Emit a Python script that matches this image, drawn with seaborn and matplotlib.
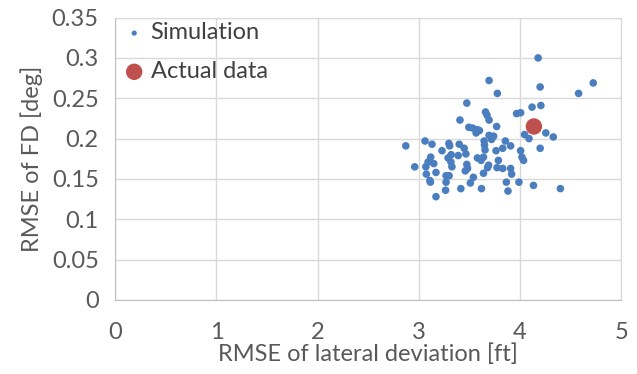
import pandas as pd
import matplotlib.pyplot as plt
import seaborn as sns

sns.set_style('whitegrid')
plt.rcParams['font.family'] = ['Lato', 'DejaVu Sans']

# simulated runs
sim_x = [4.18, 3.695, 4.20, 4.725, 4.58, 3.777, 3.475, 3.66, 3.675, 3.695,
         3.407, 3.967, 4.007, 4.12, 4.207, 3.77, 3.495, 3.534, 3.58, 3.567,
         3.695, 3.74, 3.72, 3.646, 3.65, 3.856, 3.908, 3.83, 3.764, 4.046,
         4.09, 4.256, 4.33, 4.20, 4.007, 4.02, 4.036, 2.872, 3.062, 3.131,
         3.23, 3.298, 3.40, 3.449, 3.466, 3.32, 3.39, 3.118, 3.092, 3.148,
         3.07, 2.96, 3.075, 3.17, 3.11, 3.115, 3.27, 3.30, 3.27, 3.328,
         3.318, 3.475, 3.482, 3.54, 3.51, 3.416, 3.265, 3.17, 3.58, 3.64,
         3.616, 3.69, 3.68, 3.64, 3.62, 3.787, 3.774, 3.83, 3.908, 3.918,
         3.866, 3.882, 3.99, 4.134, 4.40, 3.305, 3.29, 3.46, 3.60, 3.655]
sim_y = [0.300, 0.272, 0.264, 0.269, 0.256, 0.256, 0.244, 0.233, 0.229, 0.223,
         0.223, 0.231, 0.232, 0.239, 0.241, 0.215, 0.214, 0.213, 0.211, 0.207,
         0.204, 0.203, 0.199, 0.197, 0.192, 0.197, 0.191, 0.188, 0.185, 0.205,
         0.200, 0.207, 0.202, 0.188, 0.185, 0.177, 0.173, 0.191, 0.197, 0.193,
         0.185, 0.194, 0.193, 0.188, 0.181, 0.180, 0.179, 0.177, 0.171, 0.169,
         0.165, 0.165, 0.156, 0.158, 0.148, 0.146, 0.154, 0.154, 0.146, 0.165,
         0.171, 0.168, 0.163, 0.152, 0.145, 0.138, 0.136, 0.128, 0.176, 0.177,
         0.173, 0.167, 0.164, 0.157, 0.138, 0.173, 0.164, 0.163, 0.163, 0.156,
         0.146, 0.135, 0.146, 0.142, 0.138, 0.191, 0.176, 0.160, 0.210, 0.186]
actual_x = [4.138]
actual_y = [0.215]

sim = pd.DataFrame({'x': sim_x, 'y': sim_y})
act = pd.DataFrame({'x': actual_x, 'y': actual_y})

fig = plt.figure(figsize=(6.37, 3.74), dpi=100)
ax = fig.add_axes([0.181, 0.198, 0.794, 0.755])

sns.scatterplot(data=sim, x='x', y='y', color='#4A7EBF', s=30,
                edgecolor='none', label='Simulation', ax=ax)
sns.scatterplot(data=act, x='x', y='y', color='#C0504D', s=140,
                edgecolor='none', label='Actual data', ax=ax)

ax.set_xlim(0, 5)
ax.set_ylim(0, 0.35)
ax.set_xticks(range(0, 6))
ax.set_yticks([0, 0.05, 0.1, 0.15, 0.2, 0.25, 0.3, 0.35])
ax.set_yticklabels(['0', '0.05', '0.1', '0.15', '0.2', '0.25', '0.3', '0.35'])
ax.grid(color='#D9D9D9', linewidth=1)
for side in ax.spines:
    ax.spines[side].set_color('#D9D9D9')
ax.spines['left'].set_color('#BFBFBF')
ax.spines['bottom'].set_color('#BFBFBF')
ax.tick_params(axis='y', colors='#595959', labelsize=17, length=0, pad=12)
ax.tick_params(axis='x', colors='#595959', labelsize=17, length=0, pad=16)
ax.set_xlabel('RMSE of lateral deviation [ft]', fontsize=17,
              color='#595959', labelpad=0)
ax.set_ylabel('RMSE of FD [deg]', fontsize=17, color='#595959', labelpad=6)

leg = ax.legend(loc='upper left', frameon=False, fontsize=17,
                handletextpad=0.1, borderaxespad=0.0, labelspacing=0.75,
                borderpad=0.2, handlelength=1.2)
leg.legend_handles[0].set_sizes([14])
for t in leg.get_texts():
    t.set_color('#404040')

fig.savefig('out.png', dpi=100)
